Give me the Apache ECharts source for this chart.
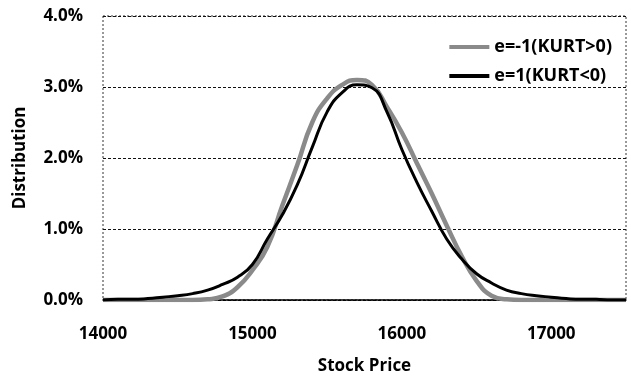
<!DOCTYPE html>
<html>
<head>
<meta charset="utf-8">
<script src="https://cdn.jsdelivr.net/npm/echarts@6/dist/echarts.min.js"></script>
<style>
  html, body { margin: 0; padding: 0; background: #fff; }
  #chart { width: 631px; height: 378px; }
</style>
</head>
<body>
<div id="chart"></div>
<script>
  // stock price grid (x)
  var prices = [14000, 14100, 14200, 14300, 14400, 14500, 14600, 14700, 14800, 14900,
                15000, 15100, 15200, 15300, 15400, 15500, 15600, 15700, 15800, 15900,
                16000, 16100, 16200, 16300, 16400, 16500, 16600, 16700, 16800, 16900,
                17000, 17100, 17200, 17300, 17400, 17500];
  // distribution in %
  var kurtPos = [0, 0, 0, 0, 0, 0, 0, 0.01, 0.05, 0.18,
                 0.42, 0.75, 1.33, 1.90, 2.50, 2.84, 3.03, 3.10, 3.03, 2.72,
                 2.36, 1.93, 1.50, 1.05, 0.62, 0.27, 0.06, 0.01, 0, 0,
                 0, 0, 0, 0, 0, 0];
  var kurtNeg = [0, 0.01, 0.01, 0.02, 0.04, 0.06, 0.09, 0.14, 0.22, 0.32,
                 0.50, 0.86, 1.20, 1.62, 2.15, 2.65, 2.92, 3.03, 2.99, 2.65,
                 2.12, 1.66, 1.25, 0.86, 0.58, 0.37, 0.24, 0.14, 0.09, 0.06,
                 0.04, 0.02, 0.01, 0.01, 0, 0];
  var seriesNames = ['e=-1(KURT>0)', 'e=1(KURT<0)'];

  function pairs(ys) {
    var out = [];
    for (var i = 0; i < prices.length; i++) out.push([prices[i], ys[i]]);
    return out;
  }

  var font = '"Open Sans", "DejaVu Sans", sans-serif';
  var myChart = echarts.init(document.getElementById('chart'));
  var option = {
    animation: false,
    textStyle: { fontFamily: font },
    grid: {
      left: 103, right: 5, top: 16, bottom: 78,
      outerBoundsMode: 'none',
      show: true,
      borderColor: '#333',
      borderWidth: 1,
      borderType: [2, 2]
    },
    legend: {
      orient: 'vertical',
      right: 14,
      top: 33,
      itemWidth: 40,
      itemHeight: 4,
      itemGap: 11,
      data: [
        { name: seriesNames[0], icon: 'rect' },
        { name: seriesNames[1], icon: 'rect' }
      ],
      textStyle: { fontSize: 18, fontWeight: 'bold', color: '#000', fontFamily: font }
    },
    xAxis: {
      type: 'value',
      min: 14000,
      max: 17500,
      interval: 1000,
      name: 'Stock Price',
      nameLocation: 'middle',
      nameGap: 58,
      nameTextStyle: { fontSize: 17, fontWeight: 'bold', color: '#000' },
      axisLine: { show: true, lineStyle: { color: '#000', width: 1.5 } },
      axisTick: { show: false },
      splitLine: { show: false },
      axisLabel: {
        showMaxLabel: false,
        margin: 26,
        fontSize: 17,
        fontWeight: 'bold',
        color: '#000',
        formatter: function (v) { return String(v); }
      }
    },
    yAxis: {
      type: 'value',
      min: 0,
      max: 4,
      interval: 1,
      name: 'Distribution',
      nameLocation: 'middle',
      nameGap: 74,
      nameTextStyle: { fontSize: 17, fontWeight: 'bold', color: '#000' },
      axisLine: { show: false },
      axisTick: { show: false },
      splitLine: { show: true, lineStyle: { color: '#111', width: 1, type: [3, 2] } },
      axisLabel: {
        margin: 20,
        fontSize: 17,
        fontWeight: 'bold',
        color: '#000',
        formatter: function (v) { return v.toFixed(1) + '%'; }
      }
    },
    series: [
      {
        name: seriesNames[0],
        type: 'line',
        smooth: true,
        symbol: 'none',
        data: pairs(kurtPos),
        lineStyle: { color: '#8a8a8a', width: 4.5 },
        itemStyle: { color: '#8a8a8a' }
      },
      {
        name: seriesNames[1],
        type: 'line',
        smooth: true,
        symbol: 'none',
        data: pairs(kurtNeg),
        lineStyle: { color: '#000', width: 3 },
        itemStyle: { color: '#000' }
      }
    ]
  };
  myChart.setOption(option);
</script>
</body>
</html>
